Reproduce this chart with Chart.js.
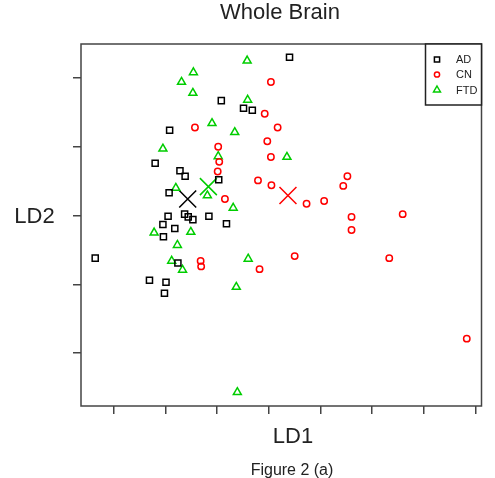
<!DOCTYPE html>
<html><head><meta charset="utf-8">
<script src="https://cdn.jsdelivr.net/npm/chart.js@4/dist/chart.umd.min.js"></script>
<style>html,body{margin:0;padding:0;background:#fff;}</style>
</head><body>
<canvas id="c" width="495" height="478"></canvas>
<script>
// ---- data ----
const groups = ['AD', 'CN', 'FTD'];
const adLD1 = [1.40, 0.08, 0.51, 0.68, -0.92, -1.20, -0.72, -0.62, 0.03, -0.93, -0.95, -0.63, -0.56, -0.47, -0.16, 0.18, -1.05, -0.82, -1.04, -2.36, -0.76, -1.31, -0.99, -1.02];
const adLD2 = [2.30, 1.67, 1.56, 1.53, 1.24, 0.76, 0.65, 0.57, 0.52, 0.33, -0.01, 0.02, -0.02, -0.06, -0.01, -0.12, -0.13, -0.19, -0.31, -0.62, -0.69, -0.94, -0.97, -1.13];
const cnLD1 = [1.04, 0.92, 1.17, -0.43, 0.97, 0.02, 1.04, 0.04, 0.01, 0.79, 1.05, 2.52, 2.44, 0.15, 1.73, 2.07, 2.60, 3.59, 2.60, 1.50, 3.33, -0.32, -0.31, 0.82, 4.83];
const cnLD2 = [1.94, 1.48, 1.28, 1.28, 1.08, 1.00, 0.85, 0.78, 0.64, 0.51, 0.44, 0.57, 0.43, 0.24, 0.17, 0.21, -0.02, 0.02, -0.21, -0.59, -0.62, -0.66, -0.74, -0.78, -1.79];
const ftdLD1 = [0.58, -0.46, -0.69, -0.47, 0.59, -0.10, 0.34, -1.05, 0.02, 1.35, -0.80, -0.19, 0.31, -1.22, -0.51, -0.77, -0.88, 0.60, -0.67, 0.37, 0.39];
const ftdLD2 = [2.25, 2.08, 1.94, 1.78, 1.68, 1.34, 1.21, 0.97, 0.86, 0.85, 0.40, 0.29, 0.11, -0.25, -0.24, -0.43, -0.66, -0.63, -0.79, -1.04, -2.57];
const centroidLD1 = [-0.57, 1.37, -0.17];
const centroidLD2 = [0.24, 0.29, 0.42];
const xTicks = [-2, -1, 0, 1, 2, 3, 4, 5];
const yTicks = [-2, -1, 0, 1, 2];

const colors = ['#000000', '#ff0000', '#00cd00'];
const styles = ['rect', 'circle', 'triangle'];
const radii = [4.3, 3.2, 4.6];

const pts = (xs, ys) => xs.map((x, i) => ({x: x, y: ys[i]}));
const series = [pts(adLD1, adLD2), pts(cnLD1, cnLD2), pts(ftdLD1, ftdLD2)];

const datasets = groups.map((g, i) => ({
  label: g,
  data: series[i],
  pointStyle: styles[i],
  pointRadius: radii[i],
  pointBorderWidth: 1.5,
  borderColor: colors[i],
  backgroundColor: 'rgba(0,0,0,0)',
  showLine: false
}));
groups.forEach((g, i) => datasets.push({
  label: g + ' centroid',
  data: [{x: centroidLD1[i], y: centroidLD2[i]}],
  pointStyle: 'crossRot',
  pointRadius: 12,
  pointBorderWidth: 1.5,
  borderColor: colors[i],
  backgroundColor: 'rgba(0,0,0,0)',
  showLine: false
}));

const FONT = '"Liberation Sans", Arial, Helvetica, sans-serif';

const decor = {
  id: 'decor',
  afterDraw(chart) {
    const ctx = chart.ctx;
    const a = chart.chartArea;
    ctx.save();
    // plot box
    ctx.strokeStyle = '#444';
    ctx.lineWidth = 1.5;
    ctx.strokeRect(a.left, a.top, a.right - a.left, a.bottom - a.top);

    // legend box
    const lx = 425.5, ly = a.top, lw = a.right - 425.5, lh = 61;
    ctx.fillStyle = '#fff';
    ctx.fillRect(lx, ly, lw, lh);
    ctx.strokeStyle = '#222';
    ctx.lineWidth = 1.5;
    ctx.strokeRect(lx, ly, lw, lh);
    const rows = [59.5, 74.5, 90];
    ctx.font = '11px ' + FONT;
    ctx.textBaseline = 'middle';
    ctx.textAlign = 'left';
    groups.forEach((g, i) => {
      const sx = 437, sy = rows[i];
      ctx.strokeStyle = colors[i];
      ctx.lineWidth = 1.5;
      ctx.beginPath();
      if (i === 0) {
        ctx.rect(sx - 2.6, sy - 2.6, 5.2, 5.2);
      } else if (i === 1) {
        ctx.arc(sx, sy, 2.6, 0, Math.PI * 2);
      } else {
        const r = 4;
        ctx.moveTo(sx, sy - r);
        ctx.lineTo(sx + r * 0.866, sy + r * 0.5);
        ctx.lineTo(sx - r * 0.866, sy + r * 0.5);
        ctx.closePath();
      }
      ctx.stroke();
      ctx.fillStyle = '#222';
      ctx.fillText(g, 456, sy + 0.5);
    });

    // texts
    ctx.fillStyle = '#222';
    ctx.textAlign = 'center';
    ctx.textBaseline = 'alphabetic';
    ctx.font = '22px ' + FONT;
    ctx.fillText('Whole Brain', 280, 19);
    ctx.fillText('LD1', 293, 443);
    ctx.fillText('LD2', 34.5, 223);
    ctx.font = '16px ' + FONT;
    ctx.fillText('Figure 2 (a)', 292, 475);
    ctx.restore();
  }
};

new Chart(document.getElementById('c'), {
  type: 'scatter',
  data: {datasets: datasets},
  options: {
    responsive: false,
    animation: false,
    devicePixelRatio: 1,
    events: [],
    layout: {padding: {left: 73, right: 8.5, top: 44, bottom: 64}},
    plugins: {legend: {display: false}, tooltip: {enabled: false}, title: {display: false}},
    scales: {
      x: {
        type: 'linear', min: -2.635, max: 5.115,
        afterBuildTicks: s => { s.ticks = xTicks.map(v => ({value: v})); },
        ticks: {display: false},
        grid: {display: true, drawOnChartArea: false, drawTicks: true, tickLength: 8, color: '#444', lineWidth: 1.5},
        border: {display: false}
      },
      y: {
        type: 'linear', min: -2.769, max: 2.493,
        afterBuildTicks: s => { s.ticks = yTicks.map(v => ({value: v})); },
        ticks: {display: false},
        grid: {display: true, drawOnChartArea: false, drawTicks: true, tickLength: 8, color: '#444', lineWidth: 1.5},
        border: {display: false}
      }
    }
  },
  plugins: [decor]
});
</script>
</body></html>
